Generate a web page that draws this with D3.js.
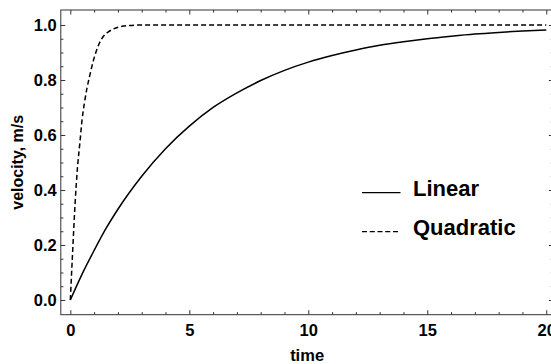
<!DOCTYPE html>
<html>
<head>
<meta charset="utf-8">
<script src="https://cdn.jsdelivr.net/npm/d3@7"></script>
<style>
  body { margin: 0; background: #fff; }
  svg { display: block; font-family: "Liberation Sans", Arial, sans-serif; }
  svg text { font-weight: 700; fill: #000; }
</style>
</head>
<body>
<div id="chart"></div>
<script>
// values
const linearTime = [0, 0.5, 1, 1.5, 2, 3, 4, 5, 6, 7, 8, 9, 10, 11, 12, 13, 14, 15, 16, 17, 18, 19, 20];
const linearVel = [0, 0.095, 0.18, 0.26, 0.33, 0.45, 0.55, 0.632, 0.70, 0.753, 0.798, 0.835, 0.865, 0.889, 0.909, 0.926, 0.939, 0.950, 0.959, 0.967, 0.973, 0.978, 0.982];

const quadTime = [0, 0.1, 0.2, 0.3, 0.4, 0.5, 0.6, 0.7, 0.8, 1.0, 1.2, 1.4, 1.6, 1.8, 2.0, 2.5, 3.0, 5, 10, 20];
const quadVel = [0, 0.18, 0.35, 0.48, 0.57, 0.66, 0.72, 0.77, 0.81, 0.88, 0.93, 0.96, 0.975, 0.985, 0.992, 0.998, 1.0, 1.0, 1.0, 1.0];

const seriesNames = ["Linear", "Quadratic"];
const xTicks = [0, 5, 10, 15, 20];
const yTicks = [0, 0.2, 0.4, 0.6, 0.8, 1.0];
const xLabel = "time";
const yLabel = "velocity, m/s";

const W = 551, H = 364;
const frame = { left: 60.8, right: 553.4, top: 10, bottom: 314.7 };

const svg = d3.select("#chart").append("svg").attr("width", W).attr("height", H);

const x = d3.scaleLinear().domain([-0.4, 20.3]).range([frame.left, frame.right]);
const y = d3.scaleLinear().domain([-0.0535, 1.0545]).range([frame.bottom, frame.top]);

// minor tick positions
const xMinor = d3.range(0, 21, 1).filter(d => d % 5 !== 0);
const yMinor = d3.range(0, 21, 1).filter(d => d % 4 !== 0).map(d => d * 0.05);

const frameColor = "#333";
const major = 4.5, minor = 2.6;

function styleAxis(g) {
  g.select(".domain").remove();
  g.selectAll(".tick line").attr("stroke", frameColor).attr("stroke-width", 1);
}

// bottom
svg.append("g").attr("transform", `translate(0,${frame.bottom})`)
  .call(d3.axisBottom(x).tickValues(xTicks).tickSize(-major).tickPadding(9.3).tickFormat(d3.format("d")))
  .call(styleAxis)
  .call(g => g.selectAll("text").style("font-size", "16.5px"));
svg.append("g").attr("transform", `translate(0,${frame.bottom})`)
  .call(d3.axisBottom(x).tickValues(xMinor).tickSize(-minor).tickFormat(""))
  .call(styleAxis);
// top
svg.append("g").attr("transform", `translate(0,${frame.top})`)
  .call(d3.axisTop(x).tickValues(xTicks).tickSize(-major).tickFormat(""))
  .call(styleAxis);
svg.append("g").attr("transform", `translate(0,${frame.top})`)
  .call(d3.axisTop(x).tickValues(xMinor).tickSize(-minor).tickFormat(""))
  .call(styleAxis);
// left
svg.append("g").attr("transform", `translate(${frame.left},0)`)
  .call(d3.axisLeft(y).tickValues(yTicks).tickSize(-major).tickPadding(4.1).tickFormat(d3.format(".1f")))
  .call(styleAxis)
  .call(g => g.selectAll("text").style("font-size", "16.5px"));
svg.append("g").attr("transform", `translate(${frame.left},0)`)
  .call(d3.axisLeft(y).tickValues(yMinor).tickSize(-minor).tickFormat(""))
  .call(styleAxis);
// right
svg.append("g").attr("transform", `translate(${frame.right},0)`)
  .call(d3.axisRight(y).tickValues(yTicks).tickSize(-major).tickFormat(""))
  .call(styleAxis);
svg.append("g").attr("transform", `translate(${frame.right},0)`)
  .call(d3.axisRight(y).tickValues(yMinor).tickSize(-minor).tickFormat(""))
  .call(styleAxis);

// axis groups carry their own font attrs; let the svg style win
svg.selectAll("g").attr("font-family", null).attr("font-size", null);
svg.selectAll(".tick text").attr("fill", null);

// frame
svg.append("rect")
  .attr("x", frame.left).attr("y", frame.top)
  .attr("width", frame.right - frame.left).attr("height", frame.bottom - frame.top)
  .attr("fill", "none").attr("stroke", frameColor).attr("stroke-width", 1);

// curves
const line = d3.line().x(d => x(d[0])).y(d => y(d[1])).curve(d3.curveMonotoneX);

svg.append("path")
  .datum(linearTime.map((t, i) => [t, linearVel[i]]))
  .attr("fill", "none").attr("stroke", "#000").attr("stroke-width", 1.5)
  .attr("d", line);

svg.append("path")
  .datum(quadTime.map((t, i) => [t, quadVel[i]]))
  .attr("fill", "none").attr("stroke", "#000").attr("stroke-width", 1.5)
  .attr("stroke-dasharray", "5,3")
  .attr("d", line);

// axis labels
svg.append("text")
  .attr("x", (frame.left + frame.right) / 2).attr("y", 360.5)
  .attr("text-anchor", "middle").style("font-size", "16.5px")
  .text(xLabel);

svg.append("text")
  .attr("transform", `translate(23,${(frame.top + frame.bottom) / 2}) rotate(-90)`)
  .attr("text-anchor", "middle").style("font-size", "16px")
  .text(yLabel);

// legend
const legend = svg.append("g");
const legendRows = [
  { name: seriesNames[0], dash: null, x2: 400.5, ly: 192.7, ty: 196 },
  { name: seriesNames[1], dash: "5,2.75", x2: 398, ly: 231.7, ty: 234.5 }
];
legendRows.forEach(r => {
  legend.append("line")
    .attr("x1", 362).attr("x2", r.x2).attr("y1", r.ly).attr("y2", r.ly)
    .attr("stroke", "#000").attr("stroke-width", 1.3)
    .attr("stroke-dasharray", r.dash);
  legend.append("text")
    .attr("x", 413).attr("y", r.ty)
    .style("font-size", "22px")
    .text(r.name);
});
</script>
</body>
</html>
